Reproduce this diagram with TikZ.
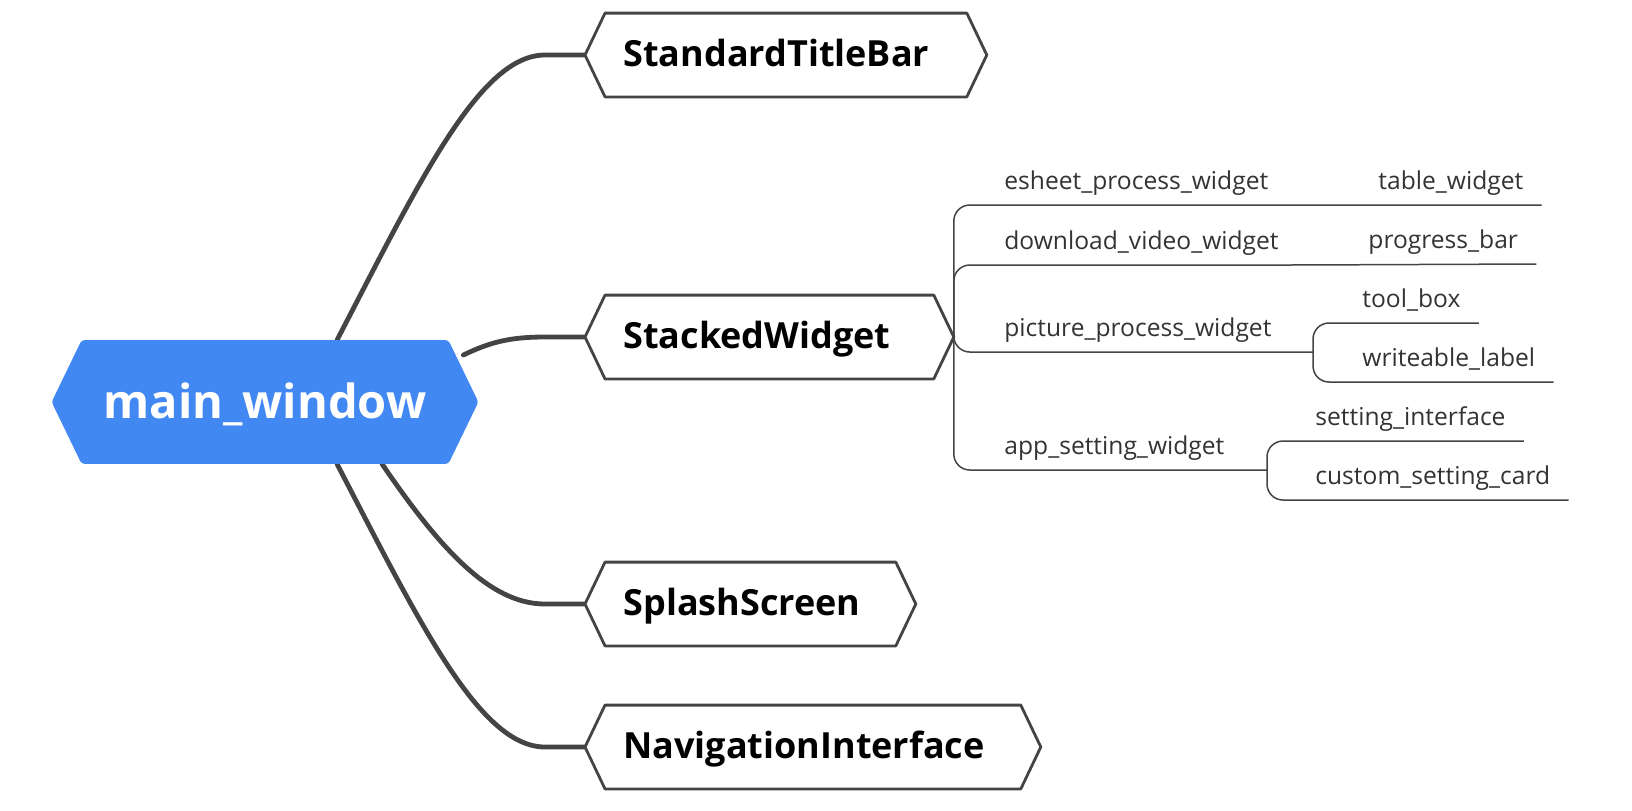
\documentclass[tikz,border=0pt]{standalone}
\usepackage{fontspec}
\setmainfont{Open Sans}
\usetikzlibrary{calc,backgrounds}

\definecolor{mainblue}{RGB}{66,136,242}
\definecolor{linegray}{RGB}{68,68,68}
\definecolor{leaftext}{RGB}{51,51,51}

\tikzset{
  topic/.style={anchor=west, text width=#1, align=left, inner xsep=19pt, inner ysep=0pt,
    minimum height=41.5pt, text height=14.5pt, text depth=3pt,
    font=\bfseries\fontsize{18}{20}\selectfont},
  leaf/.style={anchor=south west, inner xsep=9pt, inner ysep=7.5pt,
    text height=9pt, text depth=0pt, text=leaftext,
    font=\fontsize{12.3}{14}\selectfont},
  hexline/.style={draw=linegray, line width=1.4pt, fill=white, line join=round},
  branch/.style={draw=linegray, line width=2.4pt, line cap=round},
  twig/.style={draw=linegray, line width=0.75pt, rounded corners=8pt}
}

\begin{document}
\begin{tikzpicture}[x=0.5pt, y=-0.5pt]
    \useasboundingbox (0,0) rectangle (1632,810);
    \def\hexd{20}

    \node (main) [minimum width=213pt, minimum height=61.5pt, text=white, inner sep=0pt,
      text height=19pt, text depth=3pt, font=\bfseries\fontsize{23.5}{26}\selectfont] at (265,402) {main\_window};

    \node (title) [topic=162.5pt] at (585,55) {StandardTitleBar};
    \node (stack) [topic=146pt] at (585,337) {StackedWidget};
    \node (splash) [topic=127pt] at (585,604) {SplashScreen};
    \node (nav) [topic=189.5pt] at (585,747) {NavigationInterface};

    \node (esheet) [leaf] at (986,205) {esheet\_process\_widget};
    \node (download) [leaf] at (986,265) {download\_video\_widget};
    \node (picture) [leaf] at (986,352) {picture\_process\_widget};
    \node (app) [leaf] at (986,470) {app\_setting\_widget};

    \node (table) [leaf] at (1360,205) {table\_widget};
    \node (progress) [leaf] at (1350,264) {progress\_bar};
    \node (toolbox) [leaf] at (1344,323) {tool\_box};
    \node (writeable) [leaf] at (1344,382) {writeable\_label};
    \node (setting) [leaf] at (1297,441) {setting\_interface};
    \node (custom) [leaf] at (1297,500) {custom\_setting\_card};

    \coordinate (picfork) at (1313,352);
    \coordinate (appfork) at (1267,470);

    \begin{scope}[on background layer]
        \draw[branch] ($(main.north)+(72,0)$) .. controls +(83,-160) and +(-65,0) .. ($(title.west)+(-40,0)$) -- (title.west);
        \draw[branch] ($(main.east)+(-15,-47)$) .. controls +(27,-13) and +(-35,0) .. ($(stack.west)+(-40,0)$) -- (stack.west);
        \draw[branch] ($(main.south)+(117,0)$) .. controls +(58,85) and +(-55,0) .. ($(splash.west)+(-40,0)$) -- (splash.west);
        \draw[branch] ($(main.south)+(72,0)$) .. controls +(83,160) and +(-65,0) .. ($(nav.west)+(-40,0)$) -- (nav.west);

        \fill[mainblue, rounded corners=1.5pt] (main.west) -- ($(main.north west)+(30,0)$) -- ($(main.north east)+(-30,0)$)
          -- (main.east) -- ($(main.south east)+(-30,0)$) -- ($(main.south west)+(30,0)$) -- cycle;
        \foreach \n in {title,stack,splash,nav}
          \draw[hexline] (\n.west) -- ($(\n.north west)+(\hexd,0)$) -- ($(\n.north east)+(-\hexd,0)$)
            -- (\n.east) -- ($(\n.south east)+(-\hexd,0)$) -- ($(\n.south west)+(\hexd,0)$) -- cycle;
    \end{scope}

    \draw[twig] (stack.east) |- (esheet.south east) -- (table.south east);
    \draw[twig] (stack.east) |- (download.south east) -- (progress.south east);
    \draw[twig] (stack.east) |- (picture.south east) -- (picfork);
    \draw[twig] (stack.east) |- (app.south east) -- (appfork);

    \draw[twig] (picfork) |- (toolbox.south east);
    \draw[twig] (picfork) |- (writeable.south east);
    \draw[twig] (appfork) |- (setting.south east);
    \draw[twig] (appfork) |- (custom.south east);
\end{tikzpicture}
\end{document}
